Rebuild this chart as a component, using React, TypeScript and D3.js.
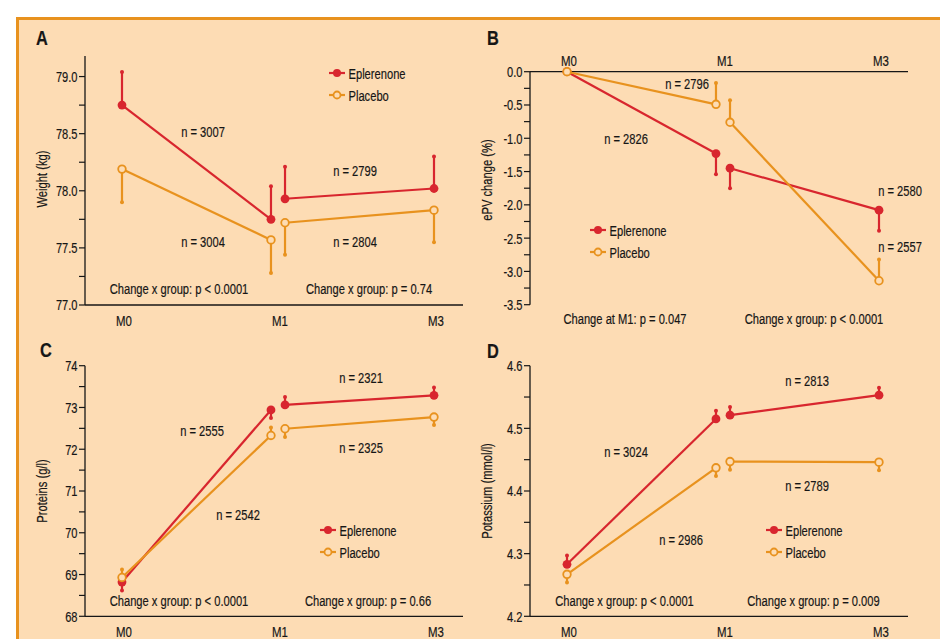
import { useRef, useEffect } from 'react';
import * as d3 from 'd3';

// visit labels; M1 is drawn twice (end of first segment, start of second)
const visits = ['M0', 'M1', 'M3'];
const pointIndex = [0, 1, 1, 2];
const SPLIT = 0.045;

// A: weight (kg)
const weightEpl = [78.75, 77.75, 77.93, 78.02];
const weightEplErr = [79.04, 78.04, 78.21, 78.3];
const weightPla = [78.19, 77.57, 77.72, 77.83];
const weightPlaErr = [77.9, 77.28, 77.44, 77.55];

// B: ePV change (%)
const epvEpl = [0, -1.23, -1.45, -2.08];
const epvEplErr = [null, -1.54, -1.75, -2.39];
const epvPla = [0, -0.49, -0.76, -3.14];
const epvPlaErr = [null, -0.17, -0.43, -2.82];

// C: proteins (g/l)
const protEpl = [68.82, 72.94, 73.06, 73.29];
const protEplErr = [68.62, 72.75, 73.25, 73.48];
const protPla = [68.93, 72.33, 72.49, 72.77];
const protPlaErr = [69.12, 72.52, 72.29, 72.58];

// D: potassium (mmol/l)
const potEpl = [4.283, 4.515, 4.521, 4.553];
const potEplErr = [4.297, 4.528, 4.534, 4.565];
const potPla = [4.267, 4.437, 4.447, 4.446];
const potPlaErr = [4.254, 4.424, 4.434, 4.433];

const RED = '#d8262e';
const ORANGE = '#e8921e';
const BG = '#fddcb4';
const INK = '#161616';
const FONT = '"Liberation Sans", Arial, sans-serif';
// the original uses a condensed face; squeeze Liberation Sans horizontally
const SQUEEZE = 0.74;

interface Note {
	text: string;
	x: number;
	y: number;
}

interface Panel {
	letter: string;
	letterPos: [number, number];
	ox: number;
	yRange: [number, number];
	domain: [number, number];
	majorStep: number;
	minorStep: number;
	decimals: number;
	axisTop: number;
	xAxisAt: number;
	labelsAbove: boolean;
	xLabelY: number;
	yLabel: string;
	yLabelPos: [number, number];
	epl: number[];
	eplErr: (number | null)[];
	pla: number[];
	plaErr: (number | null)[];
	notes: Note[];
	legend: [number, number];
}

const panels: Panel[] = [
	{
		letter: 'A',
		letterPos: [42, 37],
		ox: 85,
		yRange: [305, 56],
		domain: [77, 79.18],
		majorStep: 0.5,
		minorStep: 0.25,
		decimals: 1,
		axisTop: 79.18,
		xAxisAt: 77,
		labelsAbove: false,
		xLabelY: 320,
		yLabel: 'Weight (kg)',
		yLabelPos: [42, 179],
		epl: weightEpl,
		eplErr: weightEplErr,
		pla: weightPla,
		plaErr: weightPlaErr,
		notes: [
			{ text: 'n = 3007', x: 203, y: 131 },
			{ text: 'n = 3004', x: 203, y: 241 },
			{ text: 'n = 2799', x: 355, y: 170 },
			{ text: 'n = 2804', x: 355, y: 241 },
			{ text: 'Change x group: p < 0.0001', x: 179, y: 288 },
			{ text: 'Change x group: p = 0.74', x: 369, y: 288 },
		],
		legend: [329, 73],
	},
	{
		letter: 'B',
		letterPos: [493, 37],
		ox: 530,
		yRange: [304.7, 71.7],
		domain: [-3.5, 0],
		majorStep: 0.5,
		minorStep: 0.25,
		decimals: 1,
		axisTop: 0,
		xAxisAt: 0,
		labelsAbove: true,
		xLabelY: 60.5,
		yLabel: 'ePV change (%)',
		yLabelPos: [487, 180],
		epl: epvEpl,
		eplErr: epvEplErr,
		pla: epvPla,
		plaErr: epvPlaErr,
		notes: [
			{ text: 'n = 2796', x: 687, y: 83 },
			{ text: 'n = 2826', x: 626, y: 138 },
			{ text: 'n = 2580', x: 900, y: 190.5 },
			{ text: 'n = 2557', x: 900, y: 246.5 },
			{ text: 'Change at M1: p = 0.047', x: 625, y: 318 },
			{ text: 'Change x group: p < 0.0001', x: 814, y: 318 },
		],
		legend: [590, 230],
	},
	{
		letter: 'C',
		letterPos: [46, 349],
		ox: 85,
		yRange: [616.3, 365.7],
		domain: [68, 74],
		majorStep: 1,
		minorStep: 0.5,
		decimals: 0,
		axisTop: 74,
		xAxisAt: 68,
		labelsAbove: false,
		xLabelY: 631,
		yLabel: 'Proteins (g/l)',
		yLabelPos: [42, 491],
		epl: protEpl,
		eplErr: protEplErr,
		pla: protPla,
		plaErr: protPlaErr,
		notes: [
			{ text: 'n = 2321', x: 361, y: 377 },
			{ text: 'n = 2325', x: 361, y: 447 },
			{ text: 'n = 2555', x: 202, y: 430 },
			{ text: 'n = 2542', x: 238, y: 514 },
			{ text: 'Change x group: p < 0.0001', x: 179, y: 600.5 },
			{ text: 'Change x group: p = 0.66', x: 368, y: 600.5 },
		],
		legend: [320, 530],
	},
	{
		letter: 'D',
		letterPos: [493, 350],
		ox: 530,
		yRange: [616.3, 365.7],
		domain: [4.2, 4.6],
		majorStep: 0.1,
		minorStep: 0.05,
		decimals: 1,
		axisTop: 4.6,
		xAxisAt: 4.2,
		labelsAbove: false,
		xLabelY: 631,
		yLabel: 'Potassium (mmol/l)',
		yLabelPos: [487, 491],
		epl: potEpl,
		eplErr: potEplErr,
		pla: potPla,
		plaErr: potPlaErr,
		notes: [
			{ text: 'n = 2813', x: 807, y: 380 },
			{ text: 'n = 2789', x: 807, y: 485 },
			{ text: 'n = 3024', x: 626, y: 451 },
			{ text: 'n = 2986', x: 681, y: 539 },
			{ text: 'Change x group: p < 0.0001', x: 624.5, y: 600.5 },
			{ text: 'Change x group: p = 0.009', x: 813.5, y: 600.5 },
		],
		legend: [766, 530],
	},
];

type G = d3.Selection<SVGGElement, unknown, null, undefined>;

// condensed text: placed by transform, squeezed horizontally
function ctext(
	g: G,
	x: number,
	y: number,
	str: string,
	size: number,
	anchor = 'middle',
	rotate = 0,
	sx = SQUEEZE,
) {
	return g
		.append('text')
		.attr('transform', `translate(${x},${y}) rotate(${rotate}) scale(${sx},1)`)
		.attr('dy', '0.36em')
		.attr('text-anchor', anchor)
		.attr('font-size', size)
		.attr('fill', INK)
		.attr('stroke', INK)
		.attr('stroke-width', 0.2)
		.text(str);
}

function drawPanel(svg: d3.Selection<SVGSVGElement, unknown, null, undefined>, p: Panel) {
	const g = svg.append('g') as G;
	const x = d3.scaleLinear().domain([0, 2]).range([p.ox + 37, p.ox + 349]);
	const y = d3.scaleLinear().domain(p.domain).range(p.yRange);
	const xPos = (i: number) =>
		x(pointIndex[i] + (i === 1 ? -SPLIT : i === 2 ? SPLIT : 0));

	// letter
	ctext(g, p.letterPos[0], p.letterPos[1], p.letter, 21, 'middle', 0, 0.78).attr(
		'font-weight',
		'bold',
	);

	// y axis
	const bottom = Math.min(p.domain[0], p.domain[1]);
	g.append('line')
		.attr('x1', p.ox)
		.attr('x2', p.ox)
		.attr('y1', y(bottom))
		.attr('y2', y(p.axisTop))
		.attr('stroke', INK)
		.attr('stroke-width', 1.3);

	const top = p.labelsAbove ? 0 : Math.floor(p.axisTop / p.majorStep + 1e-6) * p.majorStep;
	const minors = d3.range(bottom, top + p.minorStep / 2, p.minorStep);
	g.append('g')
		.selectAll('line')
		.data(minors)
		.join('line')
		.attr('x1', p.ox - 6)
		.attr('x2', p.ox)
		.attr('y1', (v) => y(v))
		.attr('y2', (v) => y(v))
		.attr('stroke', INK)
		.attr('stroke-width', 1.2);

	const majors = d3.range(bottom, top + p.majorStep / 2, p.majorStep);
	const fmt = d3.format(`.${p.decimals}f`);
	majors.forEach((v) => {
		ctext(g, p.ox - 7.5, y(v), fmt(v).replace('−', '-'), 15, 'end');
	});

	// x axis
	g.append('line')
		.attr('x1', p.ox)
		.attr('x2', p.ox + 378)
		.attr('y1', y(p.xAxisAt))
		.attr('y2', y(p.xAxisAt))
		.attr('stroke', INK)
		.attr('stroke-width', 1.3);

	visits.forEach((d, i) => {
		ctext(g, x(i) + 2, p.xLabelY, d, 15.5);
	});

	// y title
	ctext(g, p.yLabelPos[0], p.yLabelPos[1], p.yLabel, 14, 'middle', -90, 0.8);

	const series = [
		{ vals: p.epl, err: p.eplErr, color: RED, open: false },
		{ vals: p.pla, err: p.plaErr, color: ORANGE, open: true },
	];

	const seg = d3
		.line<[number, number]>()
		.x((d) => d[0])
		.y((d) => d[1]);

	series.forEach((s) => {
		const sg = g.append('g');
		// two segments: M0 -> M1, M1 -> M3
		[
			[0, 1],
			[2, 3],
		].forEach(([a, b]) => {
			sg.append('path')
				.attr(
					'd',
					seg([
						[xPos(a), y(s.vals[a])],
						[xPos(b), y(s.vals[b])],
					]),
				)
				.attr('fill', 'none')
				.attr('stroke', s.color)
				.attr('stroke-width', 2.2);
		});

		s.vals.forEach((v, i) => {
			const e = s.err[i];
			if (e == null) return;
			sg.append('line')
				.attr('x1', xPos(i))
				.attr('x2', xPos(i))
				.attr('y1', y(v))
				.attr('y2', y(e))
				.attr('stroke', s.color)
				.attr('stroke-width', 2.2);
			sg.append('circle')
				.attr('cx', xPos(i))
				.attr('cy', y(e))
				.attr('r', 2)
				.attr('fill', s.color);
		});

		sg.selectAll('circle.pt')
			.data(s.vals)
			.join('circle')
			.attr('class', 'pt')
			.attr('cx', (_, i) => xPos(i))
			.attr('cy', (v) => y(v))
			.attr('r', s.open ? 3.8 : 4.4)
			.attr('fill', s.open ? BG : s.color)
			.attr('stroke', s.color)
			.attr('stroke-width', s.open ? 1.8 : 0);
	});

	// annotations
	p.notes.forEach((n) => {
		ctext(g, n.x, n.y, n.text, 15.5, 'middle', 0, 0.72);
	});

	// legend
	const [lx, ly] = p.legend;
	const legendItems = [
		{ name: 'Eplerenone', color: RED, open: false },
		{ name: 'Placebo', color: ORANGE, open: true },
	];
	legendItems.forEach((it, k) => {
		const yy = ly + k * 22;
		g.append('line')
			.attr('x1', lx)
			.attr('x2', lx + 16)
			.attr('y1', yy)
			.attr('y2', yy)
			.attr('stroke', it.color)
			.attr('stroke-width', 2.2);
		g.append('circle')
			.attr('cx', lx + 8)
			.attr('cy', yy)
			.attr('r', it.open ? 3.5 : 4)
			.attr('fill', it.open ? BG : it.color)
			.attr('stroke', it.color)
			.attr('stroke-width', it.open ? 1.8 : 0);
		ctext(g, lx + 19.5, yy, it.name, 15.5, 'start', 0, 0.72);
	});
}

export default function App() {
	const svgRef = useRef<SVGSVGElement>(null);

	useEffect(() => {
		const svg = d3.select(svgRef.current as SVGSVGElement);
		svg.selectAll('*').remove();

		// peach panel with orange frame
		svg.append('rect')
			.attr('x', 17.5)
			.attr('y', 18.5)
			.attr('width', 1000)
			.attr('height', 1000)
			.attr('fill', BG)
			.attr('stroke', ORANGE)
			.attr('stroke-width', 3);

		panels.forEach((p) => drawPanel(svg, p));
	}, []);

	return (
		<div style={{ position: 'absolute', left: 0, top: 0 }}>
			<svg
				ref={svgRef}
				width={940}
				height={639}
				style={{ display: 'block', fontFamily: FONT, background: '#fff' }}
			/>
		</div>
	);
}
